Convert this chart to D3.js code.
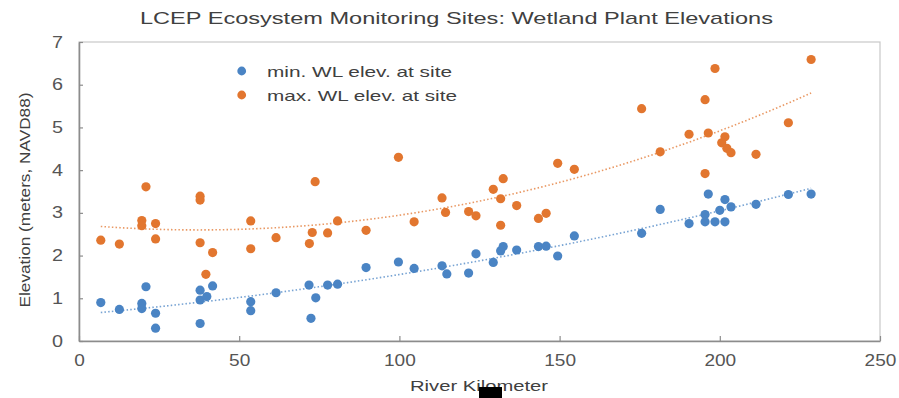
<!DOCTYPE html>
<html>
<head>
<meta charset="utf-8">
<script src="https://cdn.jsdelivr.net/npm/d3@7"></script>
<style>
  html, body { margin: 0; padding: 0; background: #fff; }
  svg { display: block; font-family: "Liberation Sans", Arial, sans-serif; }
</style>
</head>
<body>
<svg id="chart" width="899" height="398"></svg>
<script>
// River kilometer and elevation of the lowest wetland plant at each site
const minKm = [6.8, 12.6, 19.6, 19.6, 20.9, 23.9, 23.9, 37.8, 37.8, 37.8, 39.9, 41.7,
  53.6, 53.6, 61.5, 71.8, 72.4, 73.9, 77.6, 80.7, 89.6, 99.7, 104.6, 113.3, 114.8,
  121.6, 123.9, 129.3, 131.6, 132.4, 136.6, 143.4, 145.8, 149.4, 154.6, 175.6, 181.4,
  190.4, 195.4, 195.4, 196.4, 198.5, 200.0, 201.6, 201.6, 203.5, 211.3, 221.4, 228.5];
const minElev = [0.90, 0.74, 0.88, 0.76, 1.27, 0.65, 0.30, 1.19, 0.96, 0.41, 1.04, 1.29,
  0.92, 0.71, 1.13, 1.31, 0.53, 1.01, 1.31, 1.33, 1.72, 1.85, 1.70, 1.76, 1.57,
  1.59, 2.04, 1.84, 2.11, 2.21, 2.13, 2.21, 2.22, 1.99, 2.46, 2.52, 3.08,
  2.75, 2.96, 2.79, 3.44, 2.79, 3.06, 3.31, 2.79, 3.14, 3.20, 3.43, 3.44];

// River kilometer and elevation of the highest wetland plant at each site
const maxKm = [6.8, 12.6, 19.6, 19.6, 20.9, 23.9, 23.9, 37.8, 37.8, 37.8, 39.6, 41.7,
  53.6, 53.6, 61.5, 71.9, 72.8, 73.7, 77.6, 80.7, 89.6, 99.7, 104.6, 113.3, 114.4,
  121.6, 123.9, 129.3, 131.6, 131.6, 132.4, 136.6, 143.4, 145.8, 149.4, 154.6, 175.6,
  181.4, 190.4, 195.4, 195.4, 196.4, 198.5, 200.6, 201.6, 202.2, 203.5, 211.3, 221.4, 228.5];
const maxElev = [2.36, 2.27, 2.82, 2.70, 3.61, 2.75, 2.39, 3.39, 3.30, 2.30, 1.56, 2.07,
  2.81, 2.16, 2.42, 2.28, 2.54, 3.73, 2.53, 2.81, 2.59, 4.30, 2.79, 3.35, 3.01,
  3.03, 2.93, 3.55, 3.33, 2.71, 3.80, 3.17, 2.87, 2.99, 4.16, 4.02, 5.44,
  4.43, 4.84, 5.65, 3.92, 4.87, 6.38, 4.64, 4.78, 4.51, 4.41, 4.37, 5.11, 6.59];

const xTicks = [0, 50, 100, 150, 200, 250];
const yTicks = [0, 1, 2, 3, 4, 5, 6, 7];
const seriesNames = ["min. WL elev. at site", "max. WL elev. at site"];
const seriesColors = ["#4a84c4", "#e2762f"];

const svg = d3.select("#chart");
const x = d3.scaleLinear().domain([0, 250]).range([79, 880]);
const y = d3.scaleLinear().domain([0, 7]).range([341, 42]);

// Plot frame (light top/right edges)
svg.append("rect")
  .attr("x", x(0)).attr("y", y(7))
  .attr("width", x(250) - x(0)).attr("height", y(0) - y(7))
  .attr("fill", "none").attr("stroke", "#c8c8c8").attr("stroke-width", 1.2);

// Axes with inward ticks
const fmt = d3.format("d");
const gx = svg.append("g").attr("transform", `translate(0,${y(0)})`)
  .call(d3.axisBottom(x).tickValues(xTicks).tickFormat(fmt)
    .tickSizeInner(-5).tickSizeOuter(0).tickPadding(14));
const gy = svg.append("g").attr("transform", `translate(${x(0)},0)`)
  .call(d3.axisLeft(y).tickValues(yTicks).tickFormat(fmt)
    .tickSizeInner(-4).tickSizeOuter(0).tickPadding(16));
[gx, gy].forEach(g => {
  g.select(".domain").attr("stroke", "#8c8c8c").attr("stroke-width", 1.6);
  g.selectAll(".tick line").attr("stroke", "#8c8c8c").attr("stroke-width", 1.2);
  g.selectAll(".tick text")
    .attr("fill", "#555")
    .style("font-size", "16px")
    .style("font-family", "'Liberation Sans', Arial, sans-serif");
});
gx.selectAll(".tick text").each(function (d) {
  const s = String(d);
  d3.select(this).attr("textLength", s.length * 10.6).attr("lengthAdjust", "spacingAndGlyphs");
});
gy.selectAll(".tick text").attr("textLength", 11).attr("lengthAdjust", "spacingAndGlyphs");

// Second-order polynomial trendline by least squares
function quadFit(xs, ys) {
  const n = xs.length;
  let s = [0, 0, 0, 0, 0], t = [0, 0, 0];
  for (let i = 0; i < n; i++) {
    const a = xs[i], b = ys[i];
    let p = 1;
    for (let k = 0; k < 5; k++) { s[k] += p; if (k < 3) t[k] += p * b; p *= a; }
  }
  const M = [[s[0], s[1], s[2], t[0]], [s[1], s[2], s[3], t[1]], [s[2], s[3], s[4], t[2]]];
  for (let c = 0; c < 3; c++) {
    for (let r = c + 1; r < 3; r++) {
      const f = M[r][c] / M[c][c];
      for (let k = c; k < 4; k++) M[r][k] -= f * M[c][k];
    }
  }
  const co = [0, 0, 0];
  for (let r = 2; r >= 0; r--) {
    let v = M[r][3];
    for (let k = r + 1; k < 3; k++) v -= M[r][k] * co[k];
    co[r] = v / M[r][r];
  }
  return xv => co[0] + co[1] * xv + co[2] * xv * xv;
}

const series = [
  { km: minKm, elev: minElev },
  { km: maxKm, elev: maxElev }
];

series.forEach((s, i) => {
  const f = quadFit(s.km, s.elev);
  const lo = d3.min(s.km), hi = d3.max(s.km);
  const pts = d3.range(lo, hi, 1).concat([hi]);
  svg.append("path")
    .attr("d", d3.line().x(d => x(d)).y(d => y(f(d)))(pts))
    .attr("fill", "none")
    .attr("stroke", seriesColors[i])
    .attr("stroke-opacity", 0.75)
    .attr("stroke-width", 1.6)
    .attr("stroke-dasharray", "1.5,2.2");
});

series.forEach((s, i) => {
  svg.append("g").selectAll("circle")
    .data(s.km.map((k, j) => [k, s.elev[j]]))
    .join("circle")
    .attr("cx", d => x(d[0]))
    .attr("cy", d => y(d[1]))
    .attr("r", 4.6)
    .attr("fill", seriesColors[i]);
});

// Legend
const legendY = [71, 95];
const legendLen = [185, 190];
seriesNames.forEach((name, i) => {
  svg.append("circle").attr("cx", 241.7).attr("cy", legendY[i]).attr("r", 4.4).attr("fill", seriesColors[i]);
  svg.append("text")
    .attr("x", 267).attr("y", legendY[i] + 5.5)
    .attr("fill", "#404040")
    .style("font-size", "15px")
    .attr("textLength", legendLen[i]).attr("lengthAdjust", "spacingAndGlyphs")
    .text(name);
});

// Title and axis titles
svg.append("text")
  .attr("x", 456.5).attr("y", 24).attr("text-anchor", "middle")
  .attr("fill", "#404040").style("font-size", "17px")
  .attr("textLength", 633).attr("lengthAdjust", "spacingAndGlyphs")
  .text("LCEP Ecosystem Monitoring Sites: Wetland Plant Elevations");

svg.append("text")
  .attr("transform", "translate(30,200) rotate(-90)")
  .attr("text-anchor", "middle")
  .attr("fill", "#404040").style("font-size", "15px")
  .attr("textLength", 215).attr("lengthAdjust", "spacingAndGlyphs")
  .text("Elevation (meters, NAVD88)");

svg.append("text")
  .attr("x", 479).attr("y", 391).attr("text-anchor", "middle")
  .attr("fill", "#404040").style("font-size", "15px")
  .attr("textLength", 138).attr("lengthAdjust", "spacingAndGlyphs")
  .text("River Kilometer");

// Black block over the x-axis title
svg.append("rect").attr("x", 479).attr("y", 387).attr("width", 23).attr("height", 11).attr("fill", "#000");
</script>
</body>
</html>
